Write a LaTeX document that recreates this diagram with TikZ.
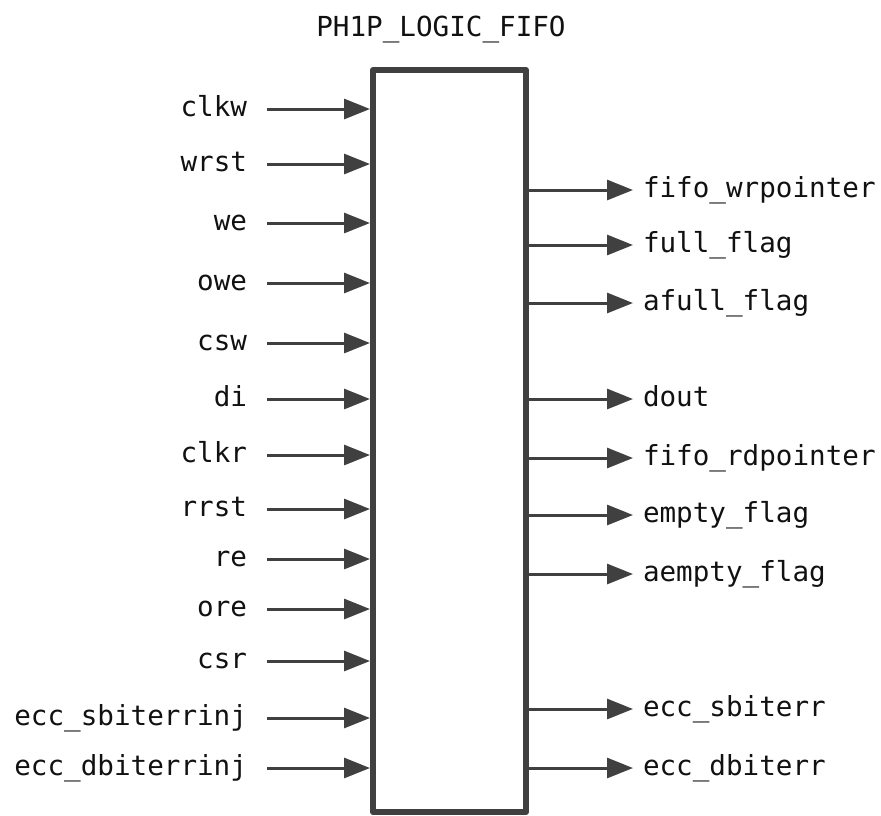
\documentclass[tikz,border=0pt]{standalone}
\usepackage{fontspec}
\setmonofont{DejaVu Sans Mono}
\usetikzlibrary{arrows.meta}
\definecolor{linegray}{HTML}{404040}
\definecolor{txt}{HTML}{111111}
\begin{document}
\begin{tikzpicture}[x=1pt,y=-1pt,
  lbl/.style={inner sep=0pt,outer sep=0pt,text height=15pt,text depth=0pt,
    font=\ttfamily\fontsize{27.6}{30}\selectfont,text=txt},
  inlbl/.style={lbl,anchor=east},
  outlbl/.style={lbl,anchor=west},
  pinarrow/.style={draw=linegray,line width=3pt,
    -{Triangle[length=26pt,width=20pt]}},
  inpin/.style={pinarrow,shorten <=20pt},
  outpin/.style={pinarrow,shorten >=10pt},
  blockbox/.style={draw=linegray,line width=6pt,line join=round,
    minimum width=153pt,minimum height=742pt,inner sep=0pt}
]
\useasboundingbox (0,0) rectangle (881,815);
\node[blockbox] (box) at (449.5,441) {};
\node[lbl,anchor=base,text height=,text depth=] (title) at (441,36) {PH1P\_LOGIC\_FIFO};
% inputs
\node[inlbl] (clkw) at (247,109) {clkw};
\node[inlbl] (wrst) at (247,164) {wrst};
\node[inlbl] (we) at (247,223) {we};
\node[inlbl] (owe) at (247,283) {owe};
\node[inlbl] (csw) at (247,343) {csw};
\node[inlbl] (di) at (247,399) {di};
\node[inlbl] (clkr) at (247,455) {clkr};
\node[inlbl] (rrst) at (247,509) {rrst};
\node[inlbl] (re) at (247,559) {re};
\node[inlbl] (ore) at (247,609) {ore};
\node[inlbl] (csr) at (247,661) {csr};
\node[inlbl] (sbinj) at (247,718) {ecc\_sbiterrinj};
\node[inlbl] (dbinj) at (247,768) {ecc\_dbiterrinj};
\foreach \n in {clkw,wrst,we,owe,csw,di,clkr,rrst,re,ore,csr,sbinj,dbinj}
  \draw[inpin] (\n.east) -- (\n.east -| box.west);
% outputs
\node[outlbl] (wrptr) at (643,190) {fifo\_wrpointer};
\node[outlbl] (full) at (643,245) {full\_flag};
\node[outlbl] (afull) at (643,303) {afull\_flag};
\node[outlbl] (dout) at (643,399) {dout};
\node[outlbl] (rdptr) at (643,458) {fifo\_rdpointer};
\node[outlbl] (empty) at (643,515) {empty\_flag};
\node[outlbl] (aempty) at (643,574) {aempty\_flag};
\node[outlbl] (sberr) at (643,709) {ecc\_sbiterr};
\node[outlbl] (dberr) at (643,768) {ecc\_dbiterr};
\foreach \n in {wrptr,full,afull,dout,rdptr,empty,aempty,sberr,dberr}
  \draw[outpin] (\n.west -| box.east) -- (\n.west);
\end{tikzpicture}
\end{document}
